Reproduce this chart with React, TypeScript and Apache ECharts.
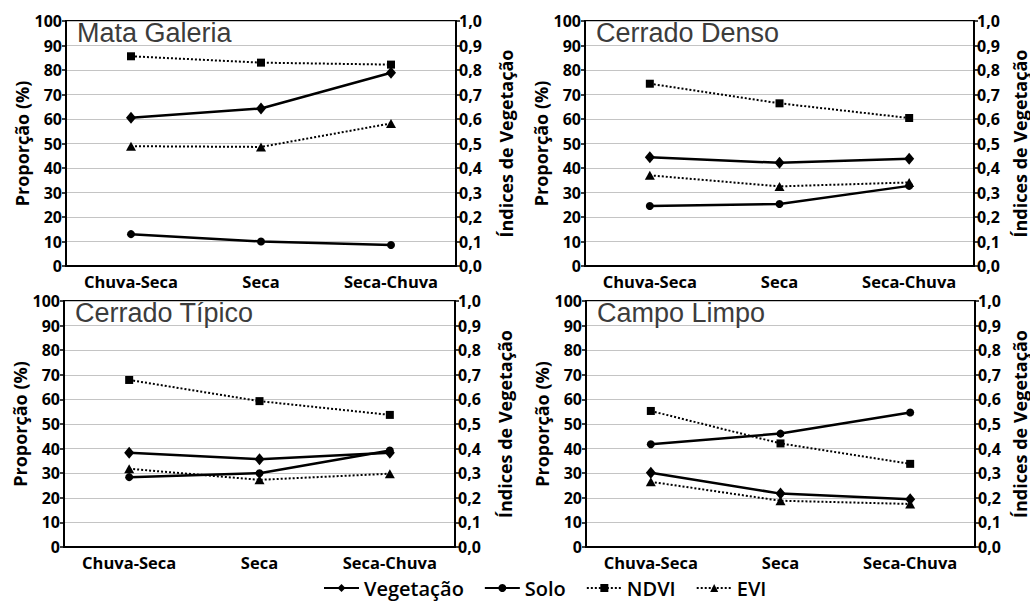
import React, { useEffect, useRef } from "react";
import * as echarts from "echarts";

const categories = ["Chuva-Seca", "Seca", "Seca-Chuva"];
const panelTitles = ["Mata Galeria", "Cerrado Denso", "Cerrado Típico", "Campo Limpo"];
const vegetacao = [
  [60.5, 64.3, 78.9],
  [44.4, 42.1, 43.8],
  [38.3, 35.7, 38.3],
  [30.2, 21.7, 19.4],
];
const solo = [
  [13.0, 10.0, 8.6],
  [24.5, 25.3, 32.7],
  [28.4, 30.0, 39.2],
  [41.8, 46.1, 54.7],
];
const ndvi = [
  [0.856, 0.83, 0.822],
  [0.744, 0.664, 0.604],
  [0.679, 0.593, 0.537],
  [0.553, 0.421, 0.338],
];
const evi = [
  [0.489, 0.486, 0.582],
  [0.37, 0.325, 0.341],
  [0.318, 0.273, 0.298],
  [0.265, 0.188, 0.175],
];
const leftAxisName = "Proporção (%)";
const rightAxisName = "Índices de Vegetação";
const legendNames = ["Vegetação", "Solo", "NDVI", "EVI"];

const gridBoxes = [
  { left: 66, top: 21, width: 390, height: 245 },
  { left: 585, top: 21, width: 391, height: 245 },
  { left: 64, top: 301, width: 391, height: 246 },
  { left: 586, top: 301, width: 392, height: 246 },
];
const rightNameGaps = [41, 37, 41, 36];

const FONT = "Open Sans";

export default function App() {
  const ref = useRef<HTMLDivElement>(null);
  useEffect(() => {
    if (!ref.current) return;
    const chart = echarts.init(ref.current, undefined, { renderer: "svg" });
    const grid: any[] = [];
    const xAxis: any[] = [];
    const yAxis: any[] = [];
    const series: any[] = [];
    const title: any[] = [];
    gridBoxes.forEach((g, i) => {
      grid.push({ ...g, show: true, borderColor: "#000", borderWidth: 2, backgroundColor: "transparent" });
      title.push({
        text: panelTitles[i],
        left: g.left + 6,
        top: g.top - 7,
        textStyle: { fontFamily: "Liberation Sans", fontWeight: "normal", fontSize: 27, color: "#3c3c3c" },
      });
      xAxis.push({
        type: "category",
        gridIndex: i,
        data: categories,
        boundaryGap: true,
        axisLine: { show: true, lineStyle: { color: "#000", width: 2 } },
        axisTick: { show: false },
        axisLabel: { color: "#000", fontFamily: FONT, fontWeight: "bold", fontSize: 16.5, margin: 7 },
        splitLine: { show: false },
      });
      yAxis.push({
        type: "value",
        gridIndex: i,
        position: "left",
        min: 0,
        max: 100,
        interval: 10,
        name: leftAxisName,
        nameLocation: "middle",
        nameGap: 32,
        nameRotate: 90,
        nameTextStyle: { color: "#000", fontFamily: FONT, fontWeight: "bold", fontSize: 18 },
        axisLine: { show: true, lineStyle: { color: "#000", width: 2 } },
        axisTick: { show: true, length: 4, lineStyle: { color: "#000", width: 1.5 } },
        axisLabel: { color: "#000", fontFamily: FONT, fontWeight: "bold", fontSize: 16, margin: 4 },
        splitLine: { show: true, lineStyle: { color: "#c4c4c4", width: 1 } },
      });
      yAxis.push({
        type: "value",
        gridIndex: i,
        position: "right",
        min: 0,
        max: 1,
        interval: 0.1,
        name: rightAxisName,
        nameLocation: "middle",
        nameGap: rightNameGaps[i],
        nameRotate: 90,
        nameTextStyle: { color: "#000", fontFamily: FONT, fontWeight: "bold", fontSize: 18 },
        axisLine: { show: true, lineStyle: { color: "#000", width: 2 } },
        axisTick: { show: true, length: 4, lineStyle: { color: "#000", width: 1.5 } },
        axisLabel: {
          color: "#000",
          fontFamily: FONT,
          fontWeight: "bold",
          fontSize: 16,
          margin: 3,
          formatter: (v: number) => v.toFixed(1).replace(".", ","),
        },
        splitLine: { show: false },
      });
      const common = { type: "line", xAxisIndex: i, z: 3, itemStyle: { color: "#000" } };
      series.push({
        ...common,
        name: legendNames[0],
        yAxisIndex: 2 * i,
        data: vegetacao[i],
        symbol: "diamond",
        symbolSize: [10, 12],
        lineStyle: { color: "#000", width: 2.5, type: "solid" },
      });
      series.push({
        ...common,
        name: legendNames[1],
        yAxisIndex: 2 * i,
        data: solo[i],
        symbol: "circle",
        symbolSize: 8,
        lineStyle: { color: "#000", width: 2.5, type: "solid" },
      });
      series.push({
        ...common,
        name: legendNames[2],
        yAxisIndex: 2 * i + 1,
        data: ndvi[i],
        symbol: "rect",
        symbolSize: 8,
        lineStyle: { color: "#000", width: 2, type: [2, 2] },
      });
      series.push({
        ...common,
        name: legendNames[3],
        yAxisIndex: 2 * i + 1,
        data: evi[i],
        symbol: "triangle",
        symbolSize: [10, 9],
        lineStyle: { color: "#000", width: 2, type: [2, 2] },
      });
    });
    chart.setOption({
      animation: false,
      backgroundColor: "#fff",
      title,
      grid,
      xAxis,
      yAxis,
      series,
      legend: {
        data: legendNames,
        left: 323,
        top: 578,
        padding: 0,
        itemWidth: 35,
        itemHeight: 10,
        itemGap: 20,
        textStyle: { color: "#000", fontFamily: FONT, fontWeight: 600, fontSize: 20 },
      },
    });
    return () => chart.dispose();
  }, []);
  return (
    <div
      ref={ref}
      style={{ position: "fixed", left: 0, top: 0, width: 1030, height: 601, background: "#fff" }}
    />
  );
}
